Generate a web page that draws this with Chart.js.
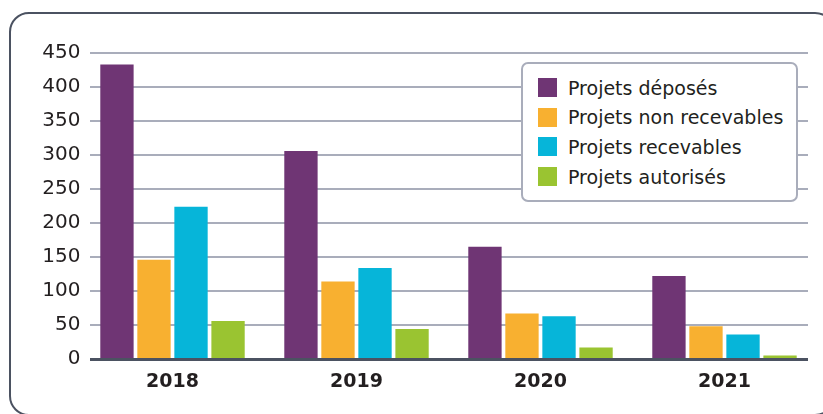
<!DOCTYPE html>
<html lang="fr">
<head>
<meta charset="utf-8">
<script src="https://cdn.jsdelivr.net/npm/chart.js@4"></script>
<style>
  html, body { margin: 0; padding: 0; background: #fff; }
  body { width: 823px; height: 414px; position: relative; overflow: hidden; font-family: "DejaVu Sans", sans-serif; }
  .frame {
    position: absolute; left: 9px; top: 12px; width: 826px; height: 404px;
    border: 2.5px solid #4b5261; border-radius: 20px; box-sizing: border-box;
  }
  #chart { position: absolute; left: 0; top: 0; }
  .legend {
    position: absolute; left: 521px; top: 62px; width: 277px; height: 140px;
    box-sizing: border-box; border: 2px solid #a9adbb; border-radius: 7px;
    background: #fff; padding: 9px 0 0 15px;
  }
  .legend-item { display: flex; align-items: center; height: 29.6px; font-size: 19px; color: #231f20; }
  .legend-item .swatch { width: 19px; height: 19px; margin-right: 11px; flex: none; }
</style>
</head>
<body>
<div class="frame"></div>
<canvas id="chart" width="823" height="414"></canvas>
<div class="legend" id="legend"></div>
<script>
document.addEventListener('DOMContentLoaded', function () {
    const years = ['2018', '2019', '2020', '2021'];
    const seriesNames = ['Projets déposés', 'Projets non recevables', 'Projets recevables', 'Projets autorisés'];
    const deposes = [433, 306, 165, 122];
    const nonRecevables = [146, 114, 67, 48];
    const recevables = [224, 134, 63, 36];
    const autorises = [56, 44, 17, 5];
    const yTicks = [0, 50, 100, 150, 200, 250, 300, 350, 400, 450];
    const colors = ['#6f3574', '#f8b030', '#06b5d9', '#9ac431'];

    const values = [deposes, nonRecevables, recevables, autorises];

    // grid lines drawn a bit inset from the chart area, like the original
    const gridPlugin = {
        id: 'insetGrid',
        beforeDatasetsDraw(chart) {
            const { ctx, chartArea, scales } = chart;
            const x0 = chartArea.left + 9.5, x1 = chartArea.right - 8.5;
            ctx.save();
            ctx.strokeStyle = '#a9adbb';
            ctx.lineWidth = 2;
            yTicks.forEach(v => {
                if (v === 0) return;
                const y = Math.round(scales.y.getPixelForValue(v));
                ctx.beginPath();
                ctx.moveTo(x0, y);
                ctx.lineTo(x1, y);
                ctx.stroke();
            });
            ctx.restore();
        },
        afterDatasetsDraw(chart) {
            const { ctx, chartArea, scales } = chart;
            const y = scales.y.getPixelForValue(0) + 0.5;
            ctx.save();
            ctx.strokeStyle = '#4b5261';
            ctx.lineWidth = 3;
            ctx.beginPath();
            ctx.moveTo(chartArea.left + 9.5, y);
            ctx.lineTo(chartArea.right - 8.5, y);
            ctx.stroke();
            ctx.restore();
        }
    };

    const ctx = document.getElementById('chart').getContext('2d');
    new Chart(ctx, {
        type: 'bar',
        data: {
            labels: years,
            datasets: seriesNames.map((name, i) => ({
                label: name,
                data: values[i],
                backgroundColor: colors[i],
                borderWidth: 0,
                barPercentage: 0.9,
                categoryPercentage: 0.805
            }))
        },
        options: {
            responsive: false,
            animation: false,
            devicePixelRatio: 1,
            layout: { padding: { left: 8, right: 6.5, top: 53, bottom: 0 } },
            plugins: { legend: { display: false }, tooltip: { enabled: false } },
            scales: {
                x: {
                    grid: { display: false, drawTicks: false },
                    border: { display: false },
                    ticks: {
                        padding: 12,
                        color: '#231f20',
                        font: { family: 'DejaVu Sans', size: 19, weight: 'bold' }
                    },
                    afterFit(scale) { scale.height = 55; }
                },
                y: {
                    min: 0,
                    max: 450,
                    grid: { display: false, drawTicks: false },
                    border: { display: false },
                    afterBuildTicks(scale) { scale.ticks = yTicks.map(v => ({ value: v })); },
                    ticks: {
                        padding: 0,
                        color: '#231f20',
                        font: { family: 'DejaVu Sans', size: 20 }
                    },
                    afterFit(scale) { scale.width = 72.5; }
                }
            }
        },
        plugins: [gridPlugin]
    });

    const legend = document.getElementById('legend');
    seriesNames.forEach((name, i) => {
        const item = document.createElement('div');
        item.className = 'legend-item';
        item.innerHTML = `<span class="swatch" style="background:${colors[i]}"></span><span>${name}</span>`;
        legend.appendChild(item);
    });
});
</script>
</body>
</html>
